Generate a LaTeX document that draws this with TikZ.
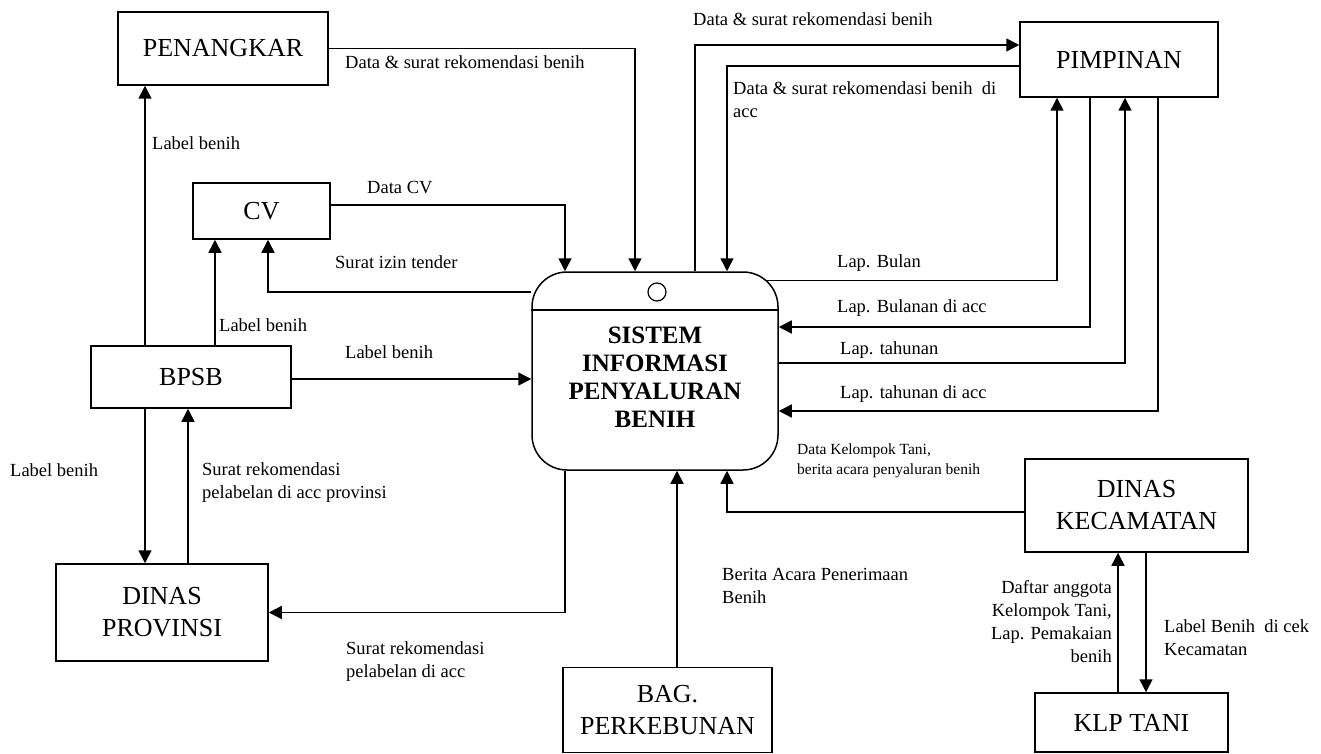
\documentclass[tikz,border=0pt]{standalone}
\usepackage{fontspec}
\setmainfont{Liberation Serif}
\usetikzlibrary{arrows.meta}

\begin{document}
\begin{tikzpicture}[x=1pt, y=-1pt,
  box/.style={draw, line width=1.5pt, align=center, inner sep=0pt, font=\fontsize{26}{32}\selectfont},
  proc/.style={draw, line width=1.5pt, rounded corners=35pt, inner sep=0pt, minimum width=246pt, minimum height=198pt},
  proctext/.style={align=center, inner sep=0pt, font=\bfseries\fontsize{25}{28}\selectfont},
  flow/.style={line width=1.5pt, -{Triangle[length=13pt,width=13pt]}},
  lbl/.style={inner sep=0pt, anchor=west, align=left, font=\fontsize{18.5}{23}\selectfont},
  smalllbl/.style={inner sep=0pt, anchor=west, align=left, font=\fontsize{15.5}{20}\selectfont}]

\useasboundingbox (0,0) rectangle (1321,754);


\node[box, minimum width=210pt, minimum height=73pt] (pen) at (223,48.5) {PENANGKAR};
\node[box, minimum width=137pt, minimum height=56pt] (cv) at (261.5,211) {CV};
\node[box, minimum width=200pt, minimum height=62pt] (bpsb) at (191,377) {BPSB};
\node[box, minimum width=212pt, minimum height=97pt] (dp) at (162,612.5) {DINAS\\PROVINSI};
\node[box, minimum width=198pt, minimum height=75pt] (pim) at (1119,59.5) {PIMPINAN};
\node[box, minimum width=223pt, minimum height=93pt] (dk) at (1136.5,505.5) {DINAS\\KECAMATAN};
\node[box, minimum width=193pt, minimum height=59pt] (klp) at (1131.5,722.5) {KLP TANI};
\node[box, minimum width=209pt, minimum height=85pt] (bag) at (667.5,710) {BAG.\\PERKEBUNAN};

\node[proc] (proc) at (655,371) {};
\node[proctext] (proct) at ([yshift=-6pt]proc.center) {SISTEM\\INFORMASI\\PENYALURAN\\BENIH};
\draw [line width=1.5pt] ([yshift=61pt]proc.west) -- ([yshift=61pt]proc.east);
\draw [line width=1.2pt] ([shift={(2pt,79pt)}]proc.center) circle (9);



\draw [flow] (pen.east) -| ([xshift=-20pt]proc.north);
\draw [flow] ([xshift=-46pt]bpsb.north) -- ([xshift=-46pt]bpsb.north |- pen.south);
\draw [flow] ([yshift=6pt]cv.east) -| ([xshift=-90pt]proc.north);
\draw [flow] ([yshift=79pt]proc.west) -| ([xshift=6.5pt]cv.south);
\draw [flow] ([xshift=24pt]bpsb.north) -- ([xshift=24pt]bpsb.north |- cv.south);
\draw [flow] ([yshift=-2pt]bpsb.east) -- ([yshift=-2pt]bpsb.east -| proc.west);
\draw [flow] ([xshift=-46pt]bpsb.south) -- ([xshift=-46pt]bpsb.south |- dp.north);
\draw [flow] ([xshift=26pt]dp.north) -- ([xshift=26pt]dp.north |- bpsb.south);
\draw [flow] ([xshift=-90pt]proc.south) |- (dp.east);
\draw [flow] ([xshift=9.5pt]bag.north) -- ([xshift=9.5pt]bag.north |- proc.south);
\draw [flow] ([yshift=-6.5pt]dk.west) -| ([xshift=72pt]proc.south);

\draw [flow] ([xshift=40pt]proc.north) |- ([yshift=14.5pt]pim.west);
\draw [flow] ([yshift=-6.5pt]pim.west) -| ([xshift=72pt]proc.north);
\draw [flow] ([shift={(-12pt,-9pt)}]proc.north east) -| ([xshift=-62pt]pim.south);
\draw [flow] ([xshift=-29pt]pim.south) |- ([yshift=44pt]proc.east);
\draw [flow] ([yshift=8pt]proc.east) -| ([xshift=6pt]pim.south);
\draw [flow] ([xshift=39pt]pim.south) |- ([yshift=-40pt]proc.east);
\draw [flow] ([xshift=-13.5pt]klp.north) -- ([xshift=-13.5pt]klp.north |- dk.south);
\draw [flow] ([xshift=9.5pt]dk.south) -- ([xshift=9.5pt]dk.south |- klp.north);



\node[lbl] (l1) at (345,62) {Data \& surat rekomendasi benih};
\node[lbl] (l2) at (152,143) {Label benih};
\node[lbl] (l3) at (367,188) {Data CV};
\node[lbl] (l4) at (335,262) {Surat izin tender};
\node[lbl] (l5) at (219,325) {Label benih};
\node[lbl] (l6) at (345,352) {Label benih};
\node[lbl] (l7) at (10,470) {Label benih};
\node[lbl] (l8) at (202,483) {Surat rekomendasi\\pelabelan di acc provinsi};
\node[lbl] (l9) at (346,662) {Surat rekomendasi\\pelabelan di acc};
\node[lbl] (l10) at (722,586) {Berita Acara Penerimaan\\Benih};
\node[smalllbl] (l11) at (797,461) {Data Kelompok Tani,\\berita acara penyaluran benih};
\node[lbl] (l12) at (693,19) {Data \& surat rekomendasi benih};
\node[lbl] (l13) at (733,100) {Data \& surat rekomendasi benih~ di\\acc};
\node[lbl] (l14) at (837,263) {Lap. Bulan};
\node[lbl] (l15) at (837,308) {Lap. Bulanan di acc};
\node[lbl] (l16) at (840,350) {Lap. tahunan};
\node[lbl] (l17) at (840,394) {Lap. tahunan di acc};
\node[lbl, anchor=east, align=right] (l18) at (1112,622) {Daftar anggota\\Kelompok Tani,\\Lap. Pemakaian\\benih};
\node[lbl] (l19) at (1164,638) {Label Benih~ di cek\\Kecamatan};

\end{tikzpicture}
\end{document}
